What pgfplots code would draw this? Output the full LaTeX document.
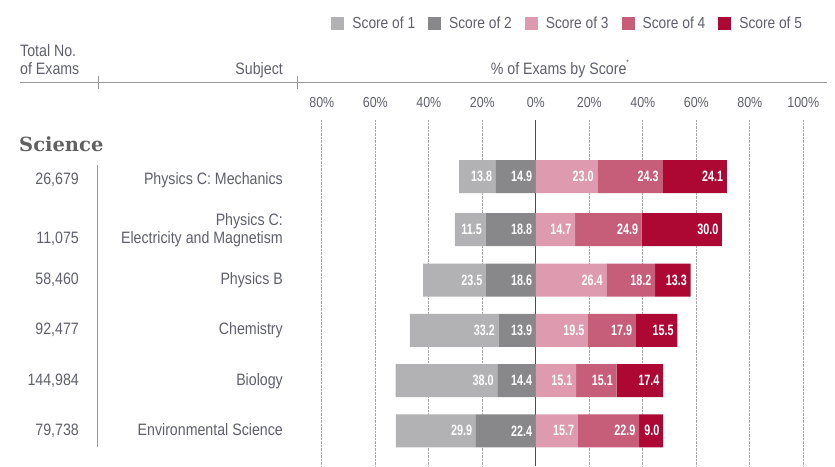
\documentclass[border=0pt]{standalone}
\usepackage{pgfplots}
\pgfplotsset{compat=1.18}
\usepackage{pgfplotstable}
\usepackage{fontspec}
\setmainfont{Liberation Sans}[FakeStretch=0.86]
\newfontfamily\barfont{Liberation Sans}[FakeStretch=0.72]
\newfontfamily\slabfont{DejaVu Serif}
\definecolor{sone}{HTML}{B2B2B4}
\definecolor{stwo}{HTML}{88888B}
\definecolor{sthree}{HTML}{DE9BAF}
\definecolor{sfour}{HTML}{C65E7A}
\definecolor{sfive}{HTML}{AD0834}
\definecolor{txt}{HTML}{5F606B}

% y = vertical position of the row (pixels from top)
\pgfplotstableread{
y s1 s2 s3 s4 s5
176.5 13.8 14.9 23.0 24.3 24.1
229.7 11.5 18.8 14.7 24.9 30.0
280.0 23.5 18.6 26.4 18.2 13.3
330.3 33.2 13.9 19.5 17.9 15.5
380.7 38.0 14.4 15.1 15.1 17.4
430.8 29.9 22.4 15.7 22.9 9.0
}\datatable

\pgfplotsset{
  base/.style={
    at={(298pt,0pt)}, anchor=south west,
    scale only axis, width=526.7pt, height=346pt,
    xmin=-88.9, xmax=108, ymin=120, ymax=466, y dir=reverse,
    axis line style={draw=none}, major tick length=0pt,
    ytick=\empty, clip=false,
    /pgf/number format/assume math mode=true,
  },
  barlabels/.style={
    point meta=explicit,
    nodes near coords={\pgfmathprintnumber[fixed,fixed zerofill,precision=1]{\pgfplotspointmeta}},
    nodes near coords style={anchor=east, xshift=-3.5pt, text=white, inner sep=0pt,
      font=\barfont\bfseries\fontsize{15}{15}\selectfont},
  },
}

\begin{document}
\begin{tikzpicture}
\path[use as bounding box] (0,0) rectangle (835pt,466pt);

% negative bars + grid + tick labels
\begin{axis}[base,
  xtick={-80,-60,-40,-20,20,40,60,80,100},
  xticklabels={80\%,60\%,40\%,20\%,20\%,40\%,60\%,80\%,100\%},
  extra x ticks={0}, extra x tick labels={0\%},
  extra x tick style={grid=major, major grid style={solid, draw=black!70, line width=0.9pt}},
  xmajorgrids, major grid style={densely dotted, draw=black!35, line width=0.7pt},
  xticklabel pos=upper,
  xticklabel style={anchor=center, yshift=17pt, text=txt, font=\fontsize{14.5}{16}\selectfont},
  xbar stacked, bar width=33pt,
]
\addplot[fill=stwo, draw=none] table[x expr=-\thisrow{s2}, y=y]{\datatable};
\addplot[fill=sone, draw=none] table[x expr=-\thisrow{s1}, y=y]{\datatable};
\end{axis}

% positive bars
\begin{axis}[base, xtick=\empty, xbar stacked, bar width=33pt]
\addplot[fill=sthree, draw=none] table[x=s3, y=y]{\datatable};
\addplot[fill=sfour, draw=none] table[x=s4, y=y]{\datatable};
\addplot[fill=sfive, draw=none] table[x=s5, y=y]{\datatable};
\end{axis}

% value labels at the right end of each segment + legend
\begin{axis}[base, xtick=\empty, barlabels,
  legend image code/.code={\fill[#1] (0pt,-6.5pt) rectangle (13pt,6.5pt);},
  legend columns=5,
  legend style={at={(0.957,1.2803)}, anchor=east, draw=none, fill=none,
    inner sep=0pt, outer sep=0pt,
    font=\fontsize{16}{18}\selectfont, text=txt,
    nodes={inner sep=0pt},
    /tikz/every odd column/.append style={column sep=8pt},
    /tikz/every even column/.append style={column sep=13pt}},
]
\addplot[draw=none, mark=none, forget plot] table[x expr=0, y=y, meta=s2]{\datatable};
\addplot[draw=none, mark=none, forget plot] table[x expr=-\thisrow{s2}, y=y, meta=s1]{\datatable};
\addplot[draw=none, mark=none, forget plot] table[x=s3, y=y, meta=s3]{\datatable};
\addplot[draw=none, mark=none, forget plot] table[x expr=\thisrow{s3}+\thisrow{s4}, y=y, meta=s4]{\datatable};
\addplot[draw=none, mark=none, forget plot] table[x expr=\thisrow{s3}+\thisrow{s4}+\thisrow{s5}, y=y, meta=s5]{\datatable};
\addlegendimage{fill=sone, draw=none}\addlegendentry{Score of 1}
\addlegendimage{fill=stwo, draw=none}\addlegendentry{Score of 2}
\addlegendimage{fill=sthree, draw=none}\addlegendentry{Score of 3}
\addlegendimage{fill=sfour, draw=none}\addlegendentry{Score of 4}
\addlegendimage{fill=sfive, draw=none}\addlegendentry{Score of 5}
\end{axis}

% header
\begin{scope}[every node/.style={text=txt, inner sep=0pt, font=\fontsize{16.5}{18}\selectfont}]
\node[anchor=base west] at (20pt,409.3pt) {Total No.};
\node[anchor=base west] at (20pt,391pt) {of Exams};
\node[anchor=base east] at (283pt,391pt) {Subject};
\node[anchor=base] at (560pt,391pt) {\% of Exams by Score\raisebox{0.55em}{\fontsize{8}{8}\selectfont *}};
\end{scope}
\draw[black!40, line width=0.8pt] (20pt,383.7pt) -- (826.7pt,383.7pt);
\draw[black!40, line width=0.8pt] (98.3pt,390pt) -- (98.3pt,377pt);
\draw[black!40, line width=0.8pt] (297pt,390pt) -- (297pt,377pt);

\node[anchor=base west, inner sep=0pt, text=black!62, font=\slabfont\bfseries\fontsize{19.5}{20}\selectfont] at (19pt,314.3pt) {Science};

\draw[black!40, line width=0.8pt] (97.5pt,301pt) -- (97.5pt,19pt);

\begin{scope}[every node/.style={text=txt, inner sep=0pt, font=\fontsize{16.5}{18}\selectfont}]
\node[anchor=base east] at (79pt,281.7pt) {26,679};
\node[anchor=base east] at (283pt,281.7pt) {Physics C: Mechanics};
\node[anchor=base east] at (79pt,222pt) {11,075};
\node[anchor=base east] at (283pt,240pt) {Physics C:};
\node[anchor=base east] at (283pt,222pt) {Electricity and Magnetism};
\node[anchor=base east] at (79pt,181.5pt) {58,460};
\node[anchor=base east] at (283pt,181.5pt) {Physics B};
\node[anchor=base east] at (79pt,131.7pt) {92,477};
\node[anchor=base east] at (283pt,131.7pt) {Chemistry};
\node[anchor=base east] at (79pt,81pt) {144,984};
\node[anchor=base east] at (283pt,81pt) {Biology};
\node[anchor=base east] at (79pt,30.3pt) {79,738};
\node[anchor=base east] at (283pt,30.3pt) {Environmental Science};
\end{scope}
\end{tikzpicture}
\end{document}
